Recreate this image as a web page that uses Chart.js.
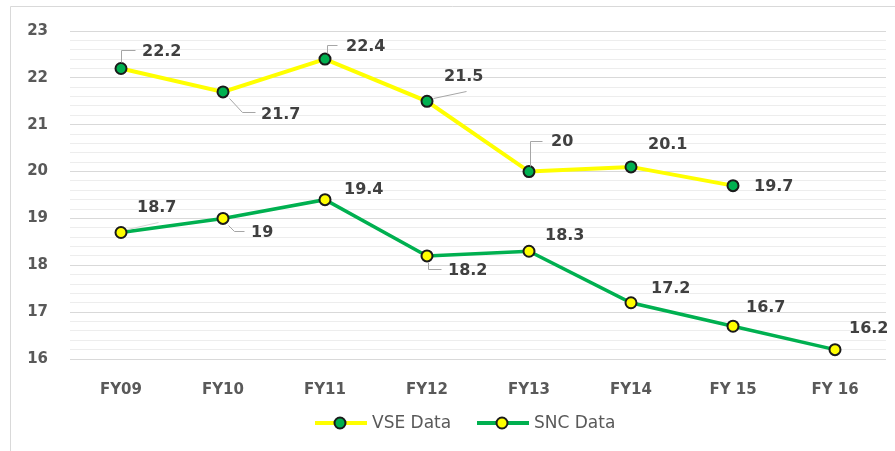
<!DOCTYPE html>
<html>
<head>
<meta charset="utf-8">
<script src="https://cdn.jsdelivr.net/npm/chart.js@4.4.1/dist/chart.umd.min.js"></script>
<style>
  html, body { margin: 0; padding: 0; background: #fff; }
  #wrap { width: 895px; height: 451px; }
</style>
</head>
<body>
<div id="wrap"><canvas id="linechart" width="895" height="451"></canvas></div>
<script>
// chart data
var categories = ["FY09", "FY10", "FY11", "FY12", "FY13", "FY14", "FY 15", "FY 16"];
var vseData = [22.2, 21.7, 22.4, 21.5, 20, 20.1, 19.7, null];
var sncData = [18.7, 19, 19.4, 18.2, 18.3, 17.2, 16.7, 16.2];
var yMin = 16;
var yMax = 23;

// label placement: [dx, dy] of text start, and optional leader line
var vseLabelPos = [
  { d: [21, -17], lead: [[0, -6], [0, -18], [14, -18]] },
  { d: [38, 23], lead: [[6, 6], [19, 20], [32, 20]] },
  { d: [21, -12], lead: [[2, -6], [2, -14], [12, -14]] },
  { d: [17, -24], lead: [[6, -3], [39, -10]] },
  { d: [22, -30], lead: [[1, -6], [1, -31], [13, -31]] },
  { d: [17, -22] },
  { d: [21, 1] }
];
var sncLabelPos = [
  { d: [16, -25], lead: [[6, -3], [37, -10]], leadColor: "#d6d6d6" },
  { d: [28, 14], lead: [[5, 7], [11, 13], [21, 13]] },
  { d: [19, -10] },
  { d: [21, 15], lead: [[1, 6], [1, 13], [14, 13]] },
  { d: [16, -15] },
  { d: [20, -14] },
  { d: [13, -18] },
  { d: [14, -21] }
];

var labelFont = "bold 16px 'DejaVu Sans', Verdana, sans-serif";

var frameAndLabels = {
  id: "frameAndLabels",
  beforeDraw: function (chart) {
    var ctx = chart.ctx;
    ctx.save();
    ctx.strokeStyle = "#d9d9d9";
    ctx.lineWidth = 1;
    ctx.beginPath();
    ctx.moveTo(10.5, 451);
    ctx.lineTo(10.5, 6.5);
    ctx.lineTo(895, 6.5);
    ctx.stroke();
    ctx.restore();
  },
  afterDatasetsDraw: function (chart) {
    var ctx = chart.ctx;
    var allPos = [vseLabelPos, sncLabelPos];
    ctx.save();
    chart.data.datasets.forEach(function (ds, di) {
      var meta = chart.getDatasetMeta(di);
      meta.data.forEach(function (pt, i) {
        var v = ds.data[i];
        if (v === null || v === undefined) return;
        var p = allPos[di][i];
        if (p.lead) {
          ctx.strokeStyle = p.leadColor || "#a6a6a6";
          ctx.lineWidth = 1;
          ctx.beginPath();
          p.lead.forEach(function (q, k) {
            var x = Math.round(pt.x + q[0]) + 0.5;
            var y = Math.round(pt.y + q[1]) + 0.5;
            if (k == 0) ctx.moveTo(x, y); else ctx.lineTo(x, y);
          });
          ctx.stroke();
        }
        ctx.fillStyle = "#404040";
        ctx.font = labelFont;
        ctx.textAlign = "left";
        ctx.textBaseline = "middle";
        ctx.fillText(String(v), pt.x + p.d[0], pt.y + p.d[1]);
      });
    });
    ctx.restore();
  },
  afterDraw: function (chart) {
    // legend: line with marker in the middle
    var ctx = chart.ctx;
    var items = [
      { x: 315, text: chart.data.datasets[0].label, line: "#ffff00", fill: "#00b050" },
      { x: 477, text: chart.data.datasets[1].label, line: "#00b050", fill: "#ffff00" }
    ];
    var y = 423;
    ctx.save();
    items.forEach(function (it) {
      ctx.strokeStyle = it.line;
      ctx.lineWidth = 4;
      ctx.beginPath();
      ctx.moveTo(it.x, y);
      ctx.lineTo(it.x + 52, y);
      ctx.stroke();
      ctx.beginPath();
      ctx.arc(it.x + 25, y, 5.5, 0, Math.PI * 2);
      ctx.fillStyle = it.fill;
      ctx.fill();
      ctx.strokeStyle = "#1a1a1a";
      ctx.lineWidth = 2;
      ctx.stroke();
      ctx.fillStyle = "#595959";
      ctx.font = "17px 'DejaVu Sans', Verdana, sans-serif";
      ctx.textAlign = "left";
      ctx.textBaseline = "middle";
      ctx.fillText(it.text, it.x + 57, y + 1);
    });
    ctx.restore();
  }
};

var chart1 = document.getElementById("linechart");
var myChart = new Chart(chart1, {
  type: "line",
  data: {
    labels: categories,
    datasets: [
      {
        label: "VSE Data",
        data: vseData,
        borderColor: "#ffff00",
        borderWidth: 4,
        pointBackgroundColor: "#00b050",
        pointBorderColor: "#1a1a1a",
        pointBorderWidth: 2,
        pointRadius: 5.5,
        tension: 0,
        fill: false
      },
      {
        label: "SNC Data",
        data: sncData,
        borderColor: "#00b050",
        borderWidth: 3.5,
        pointBackgroundColor: "#ffff00",
        pointBorderColor: "#1a1a1a",
        pointBorderWidth: 2,
        pointRadius: 5.5,
        tension: 0,
        fill: false
      }
    ]
  },
  options: {
    responsive: false,
    devicePixelRatio: 1,
    animation: false,
    layout: { padding: { left: 20, right: 9, top: 28, bottom: 52 } },
    plugins: {
      legend: { display: false },
      tooltip: { enabled: false },
      title: { display: false }
    },
    scales: {
      x: {
        offset: true,
        grid: { display: false },
        border: { display: false },
        ticks: {
          color: "#595959",
          padding: 14,
          font: { family: "'DejaVu Sans', Verdana, sans-serif", size: 15, weight: "bold" }
        },
        afterFit: function (scale) { scale.height = 40; }
      },
      y: {
        min: yMin,
        max: yMax,
        border: { display: false },
        grid: {
          drawTicks: false,
          color: function (c) {
            var v = c.tick.value;
            return Math.abs(v - Math.round(v)) < 1e-6 ? "#d9d9d9" : "#ededed";
          }
        },
        ticks: {
          stepSize: 0.2,
          autoSkip: false,
          padding: 22,
          color: "#595959",
          font: { family: "'DejaVu Sans', Verdana, sans-serif", size: 15, weight: "bold" },
          callback: function (v) {
            return Math.abs(v - Math.round(v)) < 1e-6 ? String(Math.round(v)) : "";
          }
        },
        afterFit: function (scale) { scale.width = 50; }
      }
    }
  },
  plugins: [frameAndLabels]
});
</script>
</body>
</html>
